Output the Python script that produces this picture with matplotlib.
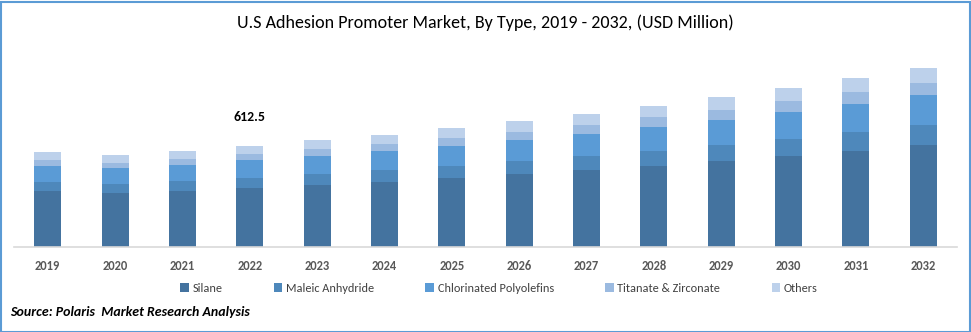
import matplotlib
matplotlib.use("Agg")
import matplotlib.pyplot as plt
from matplotlib.patches import Rectangle
import matplotlib.font_manager as fm

years = ["2019", "2020", "2021", "2022", "2023", "2024", "2025", "2026",
         "2027", "2028", "2029", "2030", "2031", "2032"]
silane = [339, 327, 339, 357, 375, 393, 418, 442, 466, 491, 523, 553, 584, 620]
maleic = [55, 55, 61, 60.5, 67, 73, 73, 79, 85, 91, 97, 103, 116, 122]
chlorinated = [97, 97, 97, 109.5, 109, 116, 122, 128, 134, 146, 152, 164, 170, 182]
titanate = [36, 30, 36, 36.5, 43, 43, 49, 49, 55, 61, 61, 67, 73, 73]
others = [49, 49, 49, 49, 55, 55, 61, 67, 67, 67, 79, 79, 85, 91]
series_names = ["Silane", "Maleic Anhydride", "Chlorinated Polyolefins",
                "Titanate & Zirconate", "Others"]
colors = ["#44739F", "#4E88BB", "#5A9BD6", "#9BBAE0", "#BDD1EB"]
annot_year = "2022"
annot_text = "612.5"

avail = {f.name for f in fm.fontManager.ttflist}
fam = [f for f in ["Carlito", "Liberation Sans Narrow", "Open Sans", "DejaVu Sans"] if f in avail]
plt.rcParams['font.family'] = fam

W, H = 971, 332
fig = plt.figure(figsize=(W / 100, H / 100), dpi=100)
ax = fig.add_axes([14 / W, (H - 247) / H, (957 - 14) / W, (247 - 40) / H])

x = list(range(len(years)))
bottom = [0] * len(years)
handles = []
for vals, name, c in zip([silane, maleic, chlorinated, titanate, others], series_names, colors):
    b = ax.bar(x, vals, width=0.4, bottom=bottom, color=c, label=name, linewidth=0)
    handles.append(b)
    bottom = [p + q for p, q in zip(bottom, vals)]

ax.set_xlim(-0.5, len(years) - 0.5)
ax.set_ylim(0, 1259)
ax.set_yticks([])
for s in ["left", "right", "top"]:
    ax.spines[s].set_visible(False)
ax.spines["bottom"].set_color("#D9D9D9")
ax.spines["bottom"].set_linewidth(1.2)
ax.set_xticks(x)
ax.set_xticklabels(years, fontsize=9, fontweight="bold", color="#595959")
ax.tick_params(axis="x", length=0, pad=9)

i = years.index(annot_year)
ax.annotate(annot_text, xy=(i, bottom[i]), xytext=(0, 17), textcoords="offset points",
            ha="center", va="bottom", fontsize=10, fontweight="bold", color="black")

fig.text(485 / W, 1 - 23 / H, "U.S Adhesion Promoter Market, By Type, 2019 - 2032, (USD Million)",
         ha="center", va="center", fontsize=13, color="black")

leg = fig.legend(handles=handles, labels=series_names, loc="center", ncol=5,
                 bbox_to_anchor=(499 / W, 1 - 288 / H), frameon=False, fontsize=8.8,
                 handlelength=0.7, handleheight=0.7, handletextpad=0.3,
                 columnspacing=4.2, labelcolor="#404040")

fig.text(10 / W, 1 - 312 / H, "Source: Polaris  Market Research Analysis", ha="left", va="center",
         fontsize=10, fontweight="bold", fontstyle="italic", color="black")

fig.patches.append(Rectangle((0.5 / W, 0.5 / H), (W - 2) / W, (H - 2) / H, transform=fig.transFigure,
                             fill=False, edgecolor="#5B9BD5", linewidth=1.5))

fig.savefig("out.png", dpi=100)
